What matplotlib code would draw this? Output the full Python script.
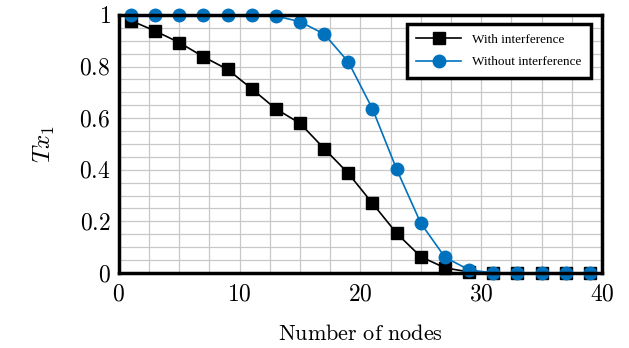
import numpy as np
import matplotlib
matplotlib.use('Agg')
import matplotlib.pyplot as plt
from matplotlib.ticker import MultipleLocator, FuncFormatter

plt.rcParams['mathtext.fontset'] = 'cm'
plt.rcParams['font.family'] = 'serif'
plt.rcParams['font.serif'] = ['Liberation Serif', 'DejaVu Serif']

# nombre de noeuds
nodes = [1, 3, 5, 7, 9, 11, 13, 15, 17, 19, 21, 23, 25, 27, 29, 31, 33, 35, 37, 39]
with_interf = [0.978, 0.938, 0.893, 0.838, 0.789, 0.714, 0.636, 0.580, 0.482, 0.386,
               0.270, 0.154, 0.063, 0.020, 0.004, 0.0, 0.0, 0.0, 0.0, 0.0]
without_interf = [1.0, 1.0, 1.0, 1.0, 1.0, 1.0, 0.996, 0.974, 0.926, 0.818,
                  0.636, 0.402, 0.193, 0.061, 0.012, 0.0, 0.0, 0.0, 0.0, 0.0]

fig = plt.figure(figsize=(6.29, 3.48), dpi=100)
ax = fig.add_axes([0.189, 0.2155, 0.768, 0.7415])

ax.plot(nodes, with_interf, color='black', marker='s', markersize=9, linewidth=1.2,
        label='With interference', clip_on=False, zorder=3)
ax.plot(nodes, without_interf, color='#0072BD', marker='o', markersize=9, linewidth=1.2,
        label='Without interference', clip_on=False, zorder=4)

ax.set_xlim(0, 40)
ax.set_ylim(0, 1)
ax.xaxis.set_major_locator(MultipleLocator(10))
ax.xaxis.set_minor_locator(MultipleLocator(2.5))
ax.yaxis.set_major_locator(MultipleLocator(0.2))
ax.yaxis.set_minor_locator(MultipleLocator(0.05))
ax.xaxis.set_major_formatter(FuncFormatter(lambda v, p: r'$%d$' % v))
ax.yaxis.set_major_formatter(FuncFormatter(lambda v, p: r'$%g$' % round(v, 2)))
ax.grid(True, which='both', color='#c8c8c8', linewidth=0.9)
ax.set_axisbelow(True)
ax.tick_params(which='both', direction='in', length=0, labelsize=17)
ax.tick_params(axis='x', pad=8)
ax.tick_params(axis='y', pad=6)

for s in ax.spines.values():
    s.set_linewidth(2.5)
    s.set_zorder(5)

ax.set_xlabel(r'$\mathrm{Number\ of\ nodes}$', fontsize=16, labelpad=14)
ax.set_ylabel(r'$Tx_1$', fontsize=18, labelpad=16)

leg = ax.legend(loc='upper right', fontsize=9.5, fancybox=False, framealpha=1,
                edgecolor='black', borderpad=0.7, handlelength=3.4,
                bbox_to_anchor=(0.99, 0.99), labelspacing=0.8)
leg.get_frame().set_linewidth(2.5)
leg.set_zorder(10)

fig.savefig('out.png', dpi=100)
